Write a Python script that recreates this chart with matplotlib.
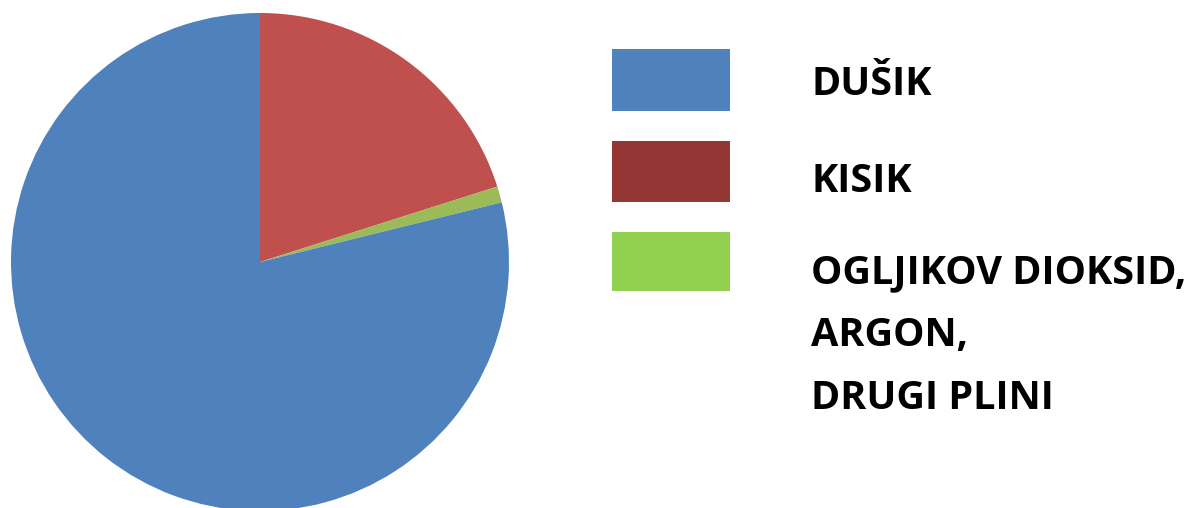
import matplotlib
matplotlib.use("Agg")
import matplotlib.pyplot as plt
from matplotlib.patches import Rectangle

# Data (clockwise from 12 o'clock)
labels = ["KISIK", "OGLJIKOV DIOKSID,\nARGON,\nDRUGI PLINI", "DUŠIK"]
values = [20.1, 1.05, 78.85]
pie_colors = ["#C0504D", "#9BBB59", "#4F81BD"]

legend_labels = ["DUŠIK", "KISIK", "OGLJIKOV DIOKSID,", "ARGON,", "DRUGI PLINI"]
legend_colors = ["#4F81BD", "#943634", "#92D050"]

W, H = 1196, 508
fig = plt.figure(figsize=(W / 100, H / 100), dpi=100)
fig.patch.set_facecolor("white")

cx, cy, r = 260, 262, 249
ax = fig.add_axes([(cx - r) / W, (H - cy - r) / H, 2 * r / W, 2 * r / H])
ax.pie(values, colors=pie_colors, startangle=90, counterclock=False,
       radius=1.0, wedgeprops=dict(linewidth=0))
ax.set_xlim(-1, 1)
ax.set_ylim(-1, 1)
ax.set_aspect("equal")
ax.axis("off")

# legend swatches (pixel coords from top)
swatches = [(612, 49, 118, 62), (612, 141, 118, 61), (612, 232, 118, 59)]
for (x, y, w, h), c in zip(swatches, legend_colors):
    fig.patches.append(Rectangle((x / W, (H - y - h) / H), w / W, h / H,
                                 transform=fig.transFigure, facecolor=c,
                                 edgecolor="none"))

baselines = [95, 192, 283, 346, 409]
for t, y in zip(legend_labels, baselines):
    fig.text(811 / W, (H - y) / H, t, fontsize=28.5, fontweight="bold",
             family=["Open Sans", "DejaVu Sans"], va="baseline", ha="left",
             color="black")

fig.savefig("out.png", dpi=100, facecolor="white")
